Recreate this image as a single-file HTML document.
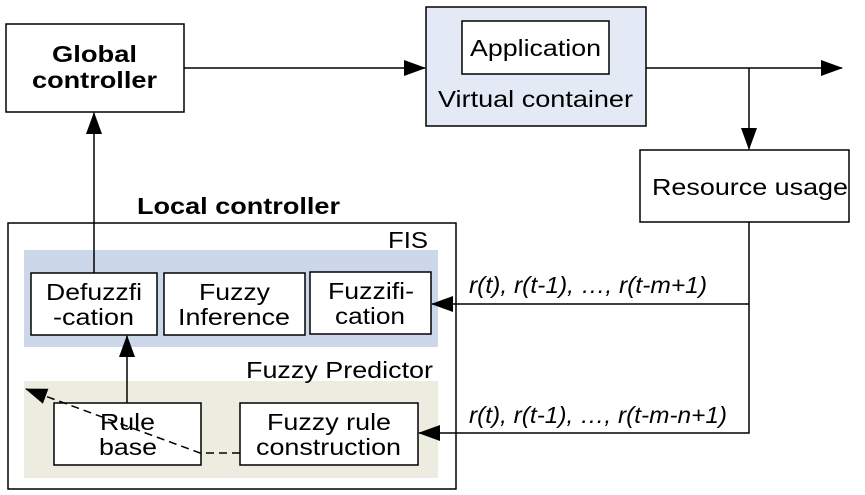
<!DOCTYPE html>
<html><head><meta charset="utf-8"><style>body{margin:0;background:#fff}svg{display:block}</style></head><body>
<svg width="865" height="495" viewBox="0 0 865 495" font-family="Liberation Sans, Arial, sans-serif">
<defs><marker id="b" markerWidth="22" markerHeight="16" refX="21" refY="8" orient="auto" markerUnits="userSpaceOnUse"><path d="M0,0 L22,8 L0,16 Z" fill="#000"/></marker></defs>
<g stroke="#000" stroke-width="1.5" fill="none">
<rect x="6" y="24" width="178" height="88" fill="#fff"/>
<rect x="426" y="7" width="220" height="119" fill="#e3eaf5"/>
<rect x="462" y="21" width="147" height="53" fill="#fff"/>
<rect x="640" y="150" width="209" height="72" fill="#fff"/>
<rect x="8" y="223" width="448" height="266" fill="#fff"/>
</g>
<rect x="24" y="250" width="414" height="97" fill="#ccd7e9"/>
<rect x="24" y="381" width="414" height="97" fill="#ecece0"/>
<g stroke="#000" stroke-width="1.5" fill="#fff">
<rect x="31" y="273" width="126" height="62"/>
<rect x="164" y="273" width="141" height="62"/>
<rect x="310" y="272" width="121" height="62"/>
<rect x="54" y="403" width="147" height="62"/>
<rect x="240" y="403" width="178" height="62"/>
</g>
<g stroke="#000" stroke-width="1.5" fill="none">
<line x1="184" y1="68" x2="425" y2="68" marker-end="url(#b)"/>
<line x1="646" y1="68" x2="842" y2="68" marker-end="url(#b)"/>
<line x1="749" y1="68" x2="749" y2="149" marker-end="url(#b)"/>
<polyline points="749,222 749,433 419,433" marker-end="url(#b)"/>
<line x1="749" y1="304" x2="432" y2="304" marker-end="url(#b)"/>
<line x1="127" y1="403" x2="127" y2="336" marker-end="url(#b)"/>
<line x1="94" y1="273" x2="94" y2="113" marker-end="url(#b)"/>
<polyline points="240,453 200,453 26,389" stroke-dasharray="8,5" marker-end="url(#b)"/>
</g>
<g font-size="23" fill="#000" lengthAdjust="spacingAndGlyphs">
<text x="52" y="62" font-weight="bold" textLength="85" lengthAdjust="spacingAndGlyphs">Global</text>
<text x="32" y="88" font-weight="bold" textLength="125" lengthAdjust="spacingAndGlyphs">controller</text>
<text x="470" y="56" textLength="131" lengthAdjust="spacingAndGlyphs">Application</text>
<text x="438" y="107" textLength="195" lengthAdjust="spacingAndGlyphs">Virtual container</text>
<text x="652" y="195" textLength="196" lengthAdjust="spacingAndGlyphs">Resource usage</text>
<text x="137" y="214" font-weight="bold" textLength="203" lengthAdjust="spacingAndGlyphs">Local controller</text>
<text x="46" y="300" textLength="96" lengthAdjust="spacingAndGlyphs">Defuzzfi</text>
<text x="53" y="325" textLength="81" lengthAdjust="spacingAndGlyphs">-cation</text>
<text x="199" y="300" textLength="71" lengthAdjust="spacingAndGlyphs">Fuzzy</text>
<text x="178" y="325" textLength="112" lengthAdjust="spacingAndGlyphs">Inference</text>
<text x="328" y="299" textLength="86" lengthAdjust="spacingAndGlyphs">Fuzzifi-</text>
<text x="335" y="324" textLength="70" lengthAdjust="spacingAndGlyphs">cation</text>
<text x="100" y="430" textLength="55" lengthAdjust="spacingAndGlyphs">Rule</text>
<text x="99" y="455" textLength="58" lengthAdjust="spacingAndGlyphs">base</text>
<text x="267" y="430" textLength="124" lengthAdjust="spacingAndGlyphs">Fuzzy rule</text>
<text x="256" y="455" textLength="145" lengthAdjust="spacingAndGlyphs">construction</text>
<text x="388" y="248" textLength="40" lengthAdjust="spacingAndGlyphs">FIS</text>
<text x="246" y="378" textLength="187" lengthAdjust="spacingAndGlyphs">Fuzzy Predictor</text>
<text x="469" y="293" font-style="italic" textLength="238" lengthAdjust="spacingAndGlyphs">r(t), r(t-1), …, r(t-m+1)</text>
<text x="469" y="423" font-style="italic" textLength="258" lengthAdjust="spacingAndGlyphs">r(t), r(t-1), …, r(t-m-n+1)</text>
</g>
</svg>
</body></html>
